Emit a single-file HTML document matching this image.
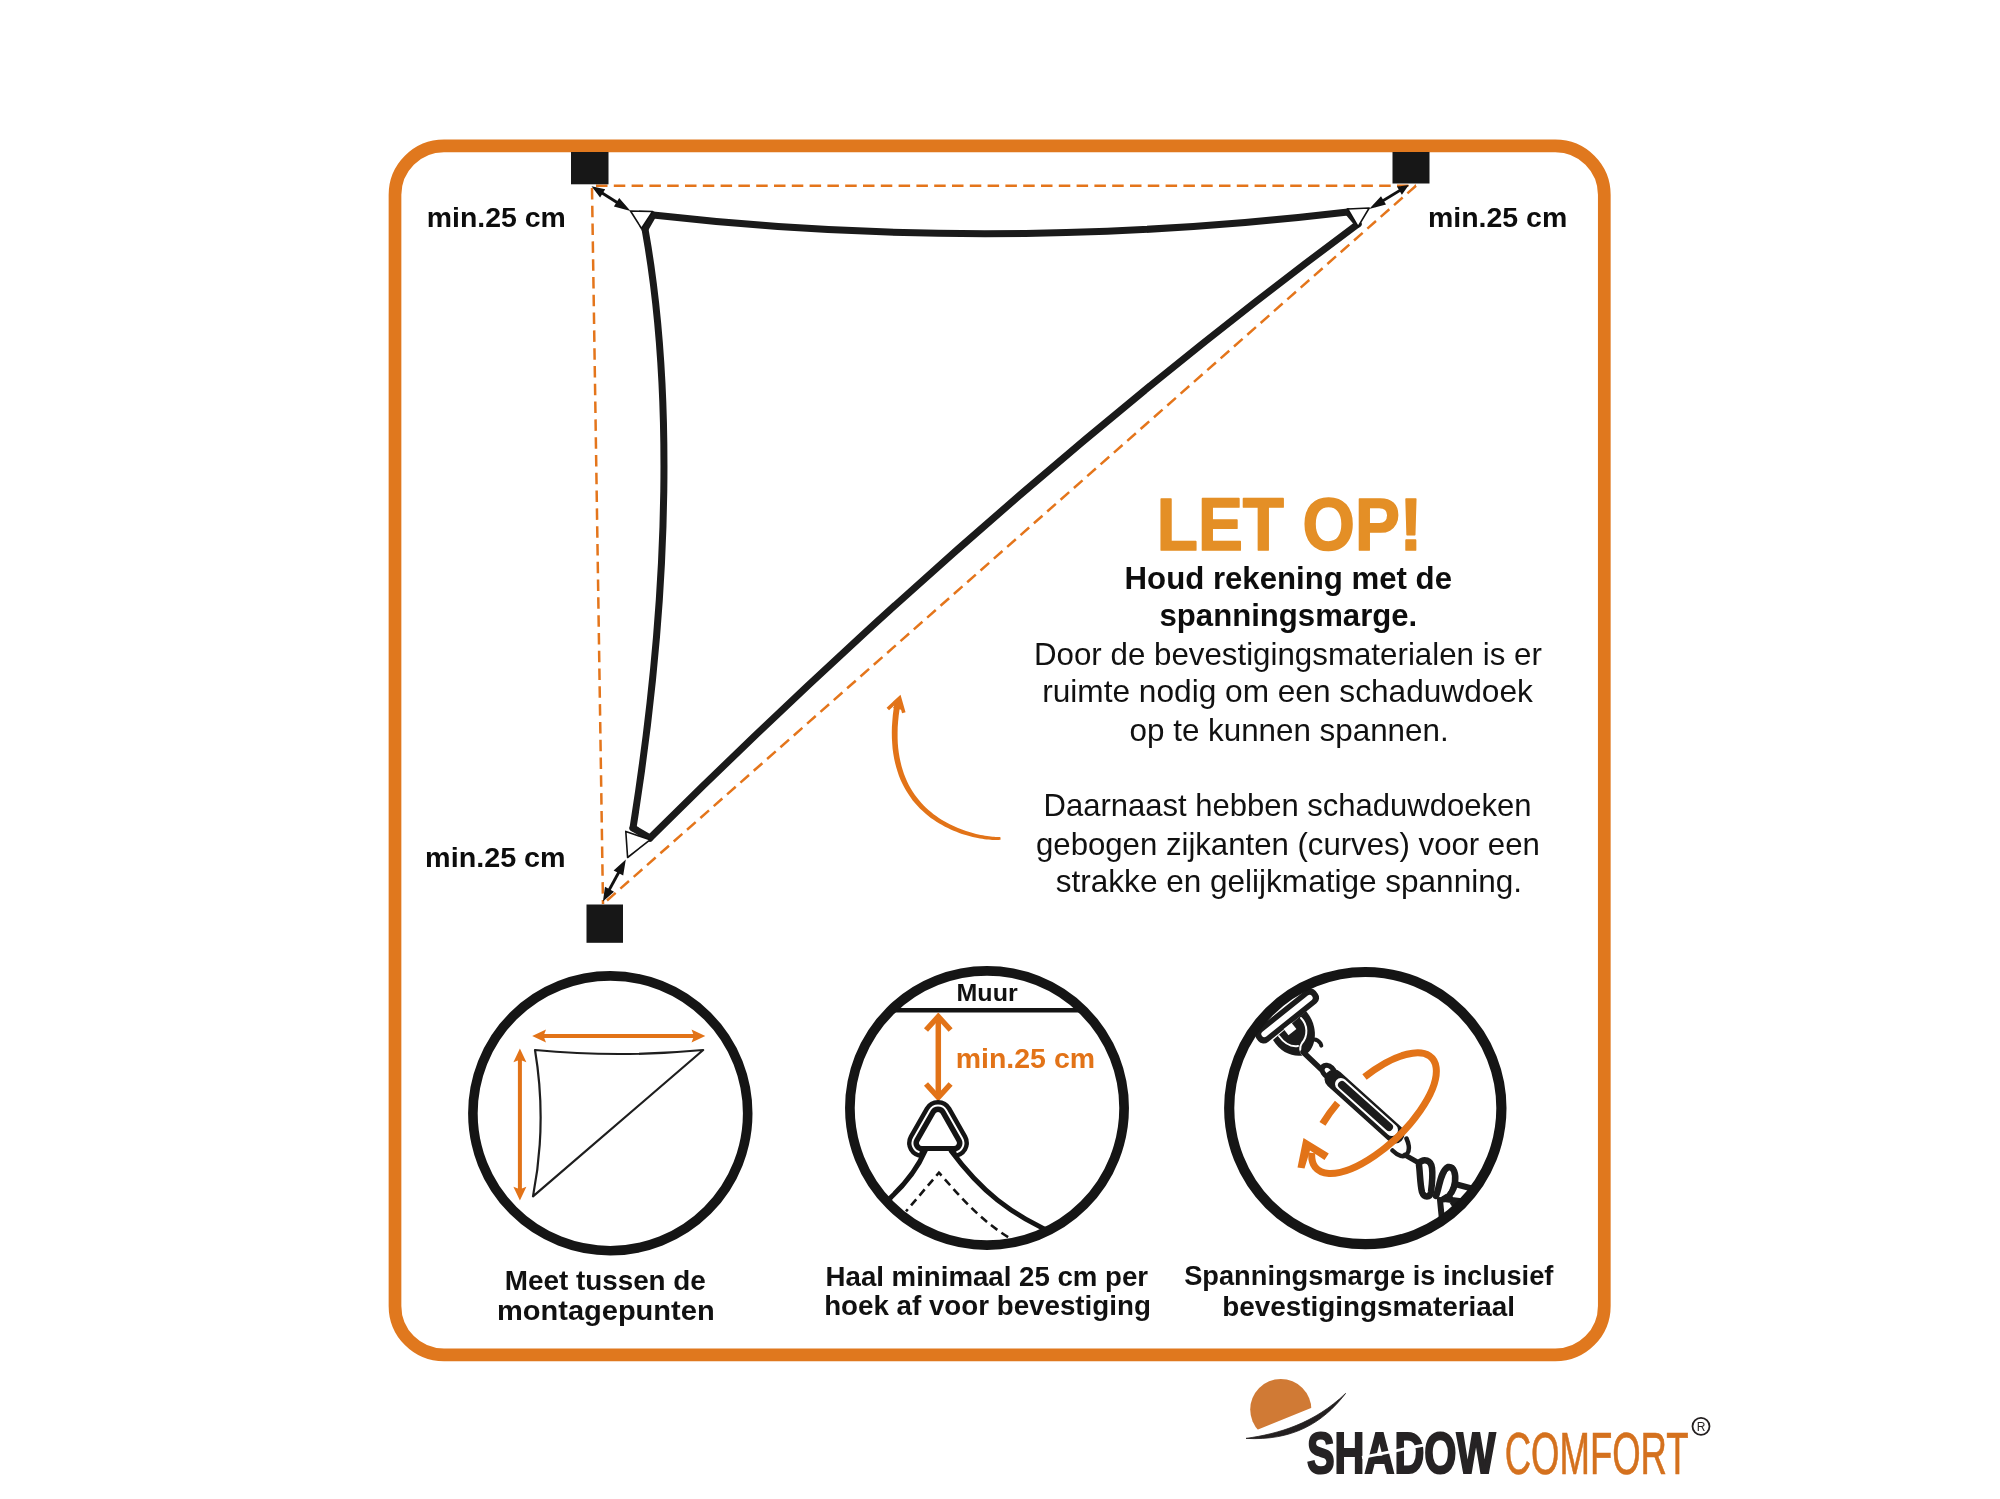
<!DOCTYPE html>
<html><head><meta charset="utf-8"><title>Spanningsmarge</title>
<style>
html,body{margin:0;padding:0;background:#fff;width:2000px;height:1499px;overflow:hidden}
svg{display:block;will-change:transform}
text{font-family:"Liberation Sans",sans-serif}
</style></head><body>
<svg width="2000" height="1499" viewBox="0 0 2000 1499">
<defs>
<marker id="ah" viewBox="0 0 10 10" refX="9" refY="5" markerWidth="5" markerHeight="4" orient="auto-start-reverse" markerUnits="strokeWidth">
<path d="M0,0 L10,5 L0,10 z" fill="#111"/>
</marker>
</defs>
<!-- orange frame -->
<rect id="frame" x="395" y="145.8" width="1209.3" height="1209.1" rx="49" ry="49" fill="none" stroke="#E0781E" stroke-width="12.7"/>

<!-- dashed guide lines -->
<g id="dash" stroke="#E4751B" stroke-width="2.5" stroke-dasharray="11.5 6.3" fill="none">
<line x1="596" y1="185.7" x2="1416" y2="185.7"/>
<line x1="592" y1="188" x2="603" y2="904"/>
<line x1="1416" y1="185.7" x2="603" y2="904"/>
</g>

<!-- anchor squares -->
<g id="squares" fill="#171717">
<rect x="571" y="152" width="37.5" height="32.3"/>
<rect x="1392.5" y="152" width="37" height="31.5"/>
<rect x="586.5" y="904.5" width="36.5" height="38.3"/>
</g>

<!-- sail -->
<g id="sail" fill="none" stroke="#1a1a1a" stroke-width="7" stroke-linejoin="round" stroke-linecap="round">
<path d="M653,215 Q995.2,253.8 1348,212"/>
<path d="M1358,224 Q1003.1,487.4 650,838"/>
<path d="M645,229 C671.6,376.9 672.5,580.4 633,828"/>
<path d="M653,215 L645,229"/>
<path d="M1348,212 L1358,224"/>
<path d="M633,828 L650,838"/>
</g>
<!-- grommets -->
<g id="grom" fill="#fff" stroke="#111" stroke-width="1.6" stroke-linejoin="round">
<path d="M630.5,211 L652.6,211.5 L641.5,228.5 Z"/>
<path d="M1347.7,209 L1369.2,208 L1358.1,226.6 Z"/>
<path d="M625.8,831.4 L650,839.8 L627.6,857.5 Z"/>
</g>
<!-- small double arrows -->
<g id="arrows">
<line x1="596.6" y1="189.5" x2="625.4" y2="207.8" stroke="#111" stroke-width="2.9"/>
<path d="M591.5,186.3 L600.1,197.5 L605.2,189.3 Z M630.5,211.0 L619.2,197.9 L613.9,206.4 Z" fill="#111"/>
<line x1="1403.7" y1="188.1" x2="1374.3" y2="205.9" stroke="#111" stroke-width="2.9"/>
<path d="M1408.8,185.0 L1396.9,186.6 L1401.9,194.8 Z M1369.2,209.0 L1386.0,204.4 L1381.0,196.2 Z" fill="#111"/>
<line x1="622.9" y1="864.7" x2="605.8" y2="896.1" stroke="#111" stroke-width="2.9"/>
<path d="M625.8,859.4 L613.6,870.4 L623.2,875.6 Z M602.9,901.4 L614.0,891.7 L605.0,886.8 Z" fill="#111"/>
</g>

<!-- min.25 cm labels -->
<g id="labels" font-weight="bold" font-size="27" fill="#0d0d0d">
</g>

<!-- LET OP block -->
<g id="letop" text-anchor="start">
<g font-weight="bold" font-size="29" fill="#0d0d0d">
</g>
<g font-size="29" fill="#111">
</g>
</g>

<!-- curved orange arrow -->
<g id="carrow" fill="#E27318">
<path d="M1000.3,837.0 L999.7,837.0 L998.9,837.0 L997.9,837.0 L996.7,837.0 L995.5,836.9 L994.0,836.8 L992.5,836.7 L990.8,836.5 L989.0,836.3 L987.1,836.0 L985.0,835.7 L982.9,835.3 L980.7,834.9 L978.4,834.4 L976.1,833.9 L973.6,833.2 L971.1,832.6 L968.6,831.8 L966.0,831.0 L963.3,830.1 L960.7,829.1 L958.0,828.0 L955.2,826.8 L952.5,825.6 L949.8,824.2 L947.0,822.8 L944.3,821.3 L941.6,819.7 L938.9,817.9 L936.2,816.1 L933.6,814.2 L931.0,812.1 L928.5,809.9 L926.0,807.7 L923.5,805.3 L921.2,802.7 L918.9,800.1 L916.7,797.3 L914.6,794.4 L912.6,791.4 L910.6,788.2 L908.8,784.9 L907.1,781.4 L905.5,777.8 L904.0,774.0 L902.7,770.1 L901.5,766.1 L900.5,761.8 L899.6,757.4 L898.8,752.8 L898.2,748.1 L897.8,743.2 L897.6,738.1 L897.6,732.8 L897.7,727.3 L898.1,721.7 L898.7,715.8 L899.5,709.8 L900.5,703.5 L894.5,702.5 L893.6,708.9 L892.8,715.2 L892.3,721.2 L891.9,727.1 L891.8,732.8 L891.9,738.3 L892.2,743.6 L892.6,748.7 L893.3,753.7 L894.1,758.4 L895.1,763.1 L896.3,767.5 L897.6,771.8 L899.0,775.9 L900.6,779.9 L902.4,783.7 L904.2,787.3 L906.2,790.8 L908.3,794.1 L910.5,797.3 L912.7,800.4 L915.1,803.3 L917.6,806.0 L920.1,808.7 L922.7,811.1 L925.4,813.5 L928.1,815.7 L930.8,817.9 L933.6,819.8 L936.4,821.7 L939.3,823.5 L942.1,825.1 L945.0,826.7 L947.9,828.1 L950.7,829.5 L953.6,830.7 L956.4,831.8 L959.2,832.9 L962.0,833.9 L964.8,834.7 L967.5,835.5 L970.1,836.3 L972.7,836.9 L975.2,837.5 L977.7,838.0 L980.0,838.4 L982.3,838.8 L984.5,839.2 L986.6,839.4 L988.6,839.6 L990.5,839.8 L992.2,839.9 L993.9,840.0 L995.4,840.0 L996.7,840.0 L997.9,839.9 L999.0,839.9 L999.9,839.7 L1000.7,839.6 Z"/>
<path d="M899.8,697 L902.5,710 L893,708 Z"/>
<path d="M887.8,709 L899.6,698 L903.8,712.8" fill="none" stroke="#E27318" stroke-width="3.6" stroke-linejoin="miter" stroke-miterlimit="6" stroke-linecap="butt"/>
</g>



<clipPath id="c1"><circle cx="610.3" cy="1113.3" r="134"/></clipPath>
<clipPath id="c2"><circle cx="987" cy="1108" r="134"/></clipPath>
<clipPath id="c3"><circle cx="1365.3" cy="1108.1" r="132"/></clipPath>

<!-- circle 1 icon -->
<g id="ic1">
<path d="M535,1050 Q619,1058 703.2,1050 L533,1196.4 Q547.2,1123 535,1050 Z" fill="none" stroke="#1e1e1e" stroke-width="2.2" stroke-linejoin="round"/>
<g fill="#E27318">
<rect x="540" y="1034" width="158" height="4"/>
<path d="M532.2,1036 L546,1029.5 L543.5,1036 L546,1042.5 Z"/>
<path d="M705.3,1036 L691.5,1029.5 L694,1036 L691.5,1042.5 Z"/>
<rect x="517.9" y="1056" width="4" height="136"/>
<path d="M519.9,1048.5 L513.4,1062.3 L519.9,1059.8 L526.4,1062.3 Z"/>
<path d="M519.9,1200.6 L513.4,1186.8 L519.9,1189.3 L526.4,1186.8 Z"/>
</g>
</g>

<!-- circle 2 icon -->
<g id="ic2">
<line x1="880" y1="1010.2" x2="1100" y2="1010.2" stroke="#141414" stroke-width="4.5" clip-path="url(#c2)"/>
<g stroke="#E27318" fill="none" stroke-linecap="butt" stroke-linejoin="miter">
<line x1="938.3" y1="1018" x2="938.3" y2="1096" stroke-width="5.5"/>
<path d="M926,1030 L938.3,1016.5 L950.6,1030" stroke-width="5.5"/>
<path d="M926,1084 L938.3,1097.5 L950.6,1084" stroke-width="5.5"/>
</g>

<path d="M951.1,1107.5 L967.0,1135.6 A15.0,15.0 0 0 1 953.9,1158.0 L922.0,1158.0 A15.0,15.0 0 0 1 909.0,1135.6 L925.0,1107.5 A15.0,15.0 0 0 1 951.1,1107.5 Z" fill="#141414"/>
<path d="M919.5,1152.3 A9.5,9.5 0 0 1 913.8,1138.3 L929.8,1110.2 A9.5,9.5 0 0 1 946.2,1110.2 L962.1,1138.3 A9.5,9.5 0 0 1 956.5,1152.3" fill="none" stroke="#fff" stroke-width="2"/>
<path d="M940.6,1113.4 L956.5,1141.5 A3.0,3.0 0 0 1 953.9,1146.0 L922.0,1146.0 A3.0,3.0 0 0 1 919.4,1141.5 L935.4,1113.4 A3.0,3.0 0 0 1 940.6,1113.4 Z" fill="#fff"/>
<g clip-path="url(#c2)">
<path d="M925,1151 L951,1151 C980,1190 1010,1215 1060,1236 L1060,1260 L870,1260 L870,1209 C903,1188 917,1170 925,1151 Z" fill="#fff"/>
<g fill="none" stroke="#141414">
<path d="M925.5,1150 C917,1170 903,1188 880,1207" stroke-width="5"/>
<path d="M950.5,1150 C980,1190 1010,1215 1060,1236" stroke-width="5"/>
<path d="M906,1211.4 L938.9,1172.7 C955,1190 980,1223 1020,1244" stroke-width="2.6" stroke-dasharray="8 5" stroke-dashoffset="5.2"/>
</g>
</g>

</g>

<!-- circle 3 icon -->
<g id="ic3" clip-path="url(#c3)">
<!-- plate -->
<g transform="translate(1287,1016) rotate(-38.7)">
<rect x="-38" y="-8.5" width="76" height="17" rx="7" fill="#1b1b1b"/>
<rect x="-32" y="-3" width="64" height="6" rx="3" fill="#fff"/>
</g>
<!-- shackle -->
<path d="M1273,1040 C1281,1053 1294,1058 1305,1055 C1317,1048 1319,1026 1306,1011 Z" fill="#1b1b1b"/>
<g fill="none" stroke="#fff" stroke-width="2" stroke-linecap="round">
<path d="M1279,1036 C1284,1043 1291,1047 1298,1046"/>
<path d="M1301,1018 C1308,1025 1308,1036 1302,1043 C1299,1047 1300,1052 1303,1055"/>
</g>
<rect x="-5" y="-4" width="10" height="8" fill="#fff" transform="translate(1290,1029) rotate(-38)"/>
<g fill="none" stroke="#1b1b1b" stroke-linecap="round" stroke-linejoin="round">
<path d="M1307.6,1045 C1310,1039 1316,1037 1320.5,1043.3 L1321.3,1045.7" stroke-width="4"/>
<path d="M1303,1052 L1324,1072" stroke-width="5.5"/>
</g>
<ellipse cx="1328.5" cy="1071.5" rx="10" ry="7.5" transform="rotate(44 1328.5 1071.5)" fill="#1b1b1b"/>
<ellipse cx="1328.5" cy="1071.5" rx="4.5" ry="2.6" transform="rotate(44 1328.5 1071.5)" fill="#fff"/>
<!-- turnbuckle body -->
<line x1="1334" y1="1079" x2="1395" y2="1134" stroke="#1b1b1b" stroke-width="19" stroke-linecap="round"/>
<line x1="1341" y1="1084" x2="1392" y2="1130" stroke="#fff" stroke-width="12" stroke-linecap="round"/>
<line x1="1342" y1="1085" x2="1389" y2="1127" stroke="#1b1b1b" stroke-width="8" stroke-linecap="round"/>
<!-- orange ellipse -->
<g fill="none" stroke="#E27318" stroke-width="7">
<path d="M1364.5,1077.1 A80,33.5 -43.67 1 1 1311.8,1152.9"/>
<path d="M1322.5,1123.9 A80,33.5 -43.67 0 1 1337.6,1103"/>
</g>
<path d="M1303.5,1138 L1328.8,1153.5 L1324.5,1160 L1310,1150.5 L1304.5,1168.5 L1297.5,1167.5 Z" fill="#E27318"/>
<!-- lower chain -->
<g fill="none" stroke="#1b1b1b" stroke-linecap="round" stroke-linejoin="round">
<path d="M1392.5,1150.5 C1398,1156 1404,1158 1407,1154 C1410,1150 1408.5,1143 1406.5,1138.5" stroke-width="4.5"/>
<path d="M1405,1155 L1419,1163" stroke-width="5"/>
<path d="M1419,1163 C1424,1158 1431,1160 1432,1168 C1433,1176 1432,1184 1431,1192 C1430,1198 1424,1198 1422,1192 C1420,1184 1420,1172 1419,1165" stroke-width="6.5"/>
<path d="M1424,1168 C1427,1176 1427,1186 1426,1191" stroke="#fff" stroke-width="2"/>
<path d="M1436,1196 C1440,1186 1440,1172 1448,1167 C1454,1166 1456,1174 1455,1182 C1454,1190 1450,1196 1444,1199" stroke-width="6.5"/>
<path d="M1448,1173 C1450,1180 1450,1188 1446,1193" stroke="#fff" stroke-width="2"/>
<path d="M1440,1200 L1444,1240 M1444,1199 L1490,1205 M1455,1184 L1500,1196 M1450,1198 L1478,1240" stroke-width="6"/>
</g>

</g>

<!-- circles -->
<g id="circles" fill="none" stroke="#151515">
<circle cx="610.3" cy="1113.3" r="137.4" stroke-width="9.6"/>
<circle cx="987" cy="1108" r="137.1" stroke-width="9.7"/>
<circle cx="1365.3" cy="1108.1" r="136.1" stroke-width="10.2"/>
</g>

<!-- captions -->
<g id="captions" font-weight="bold" font-size="27" fill="#111">
</g>

<!-- logo -->
<g id="logo">
<clipPath id="sunclip"><path d="M1200,1300 L1400,1300 L1400,1383 L1312.9,1407.2 L1256.8,1430 L1200,1453 Z"/></clipPath>
<circle cx="1280.8" cy="1409.6" r="30.6" fill="#D07A35" clip-path="url(#sunclip)"/>
<path d="M1246,1438.4 C1278.8,1433.7 1313.8,1423.7 1345.6,1393.4 C1321.9,1424.2 1291.4,1440.8 1246,1438.4 Z" fill="#231F20" stroke="#231F20" stroke-width="0.8" stroke-linejoin="round"/>
<circle cx="1701" cy="1426.3" r="8.5" fill="none" stroke="#231F20" stroke-width="1.8"/>
<text x="1701" y="1431" font-size="12" text-anchor="middle" fill="#231F20">R</text>
</g>
<!--TEXTS-->
<text x="426.72" y="227.4" font-size="27" font-weight="bold" fill="#0d0d0d" textLength="138.98" lengthAdjust="spacingAndGlyphs">min.25 cm</text>
<text x="1427.94" y="227.4" font-size="27" font-weight="bold" fill="#0d0d0d" textLength="139.34" lengthAdjust="spacingAndGlyphs">min.25 cm</text>
<text x="425.13" y="867.4" font-size="27" font-weight="bold" fill="#0d0d0d" textLength="140.52" lengthAdjust="spacingAndGlyphs">min.25 cm</text>
<text x="1156.84" y="549.75" font-size="74" font-weight="bold" fill="#E48F26" textLength="265.41" lengthAdjust="spacingAndGlyphs" stroke="#E48F26" stroke-width="1.7" stroke-linejoin="round">LET OP!</text>
<text x="1124.57" y="588.9" font-size="31.5" font-weight="bold" fill="#0d0d0d" textLength="327.44" lengthAdjust="spacingAndGlyphs">Houd rekening met de</text>
<text x="1159.56" y="626.4" font-size="31.5" font-weight="bold" fill="#0d0d0d" textLength="257.69" lengthAdjust="spacingAndGlyphs">spanningsmarge.</text>
<text x="1033.98" y="665.3" font-size="30.5" font-weight="normal" fill="#111" textLength="507.83" lengthAdjust="spacingAndGlyphs">Door de bevestigingsmaterialen is er</text>
<text x="1042.18" y="702.4" font-size="30.5" font-weight="normal" fill="#111" textLength="490.63" lengthAdjust="spacingAndGlyphs">ruimte nodig om een schaduwdoek</text>
<text x="1129.58" y="741.3" font-size="30.5" font-weight="normal" fill="#111" textLength="319.06" lengthAdjust="spacingAndGlyphs">op te kunnen spannen.</text>
<text x="1043.57" y="816.4" font-size="30.5" font-weight="normal" fill="#111" textLength="487.85" lengthAdjust="spacingAndGlyphs">Daarnaast hebben schaduwdoeken</text>
<text x="1035.99" y="855.3" font-size="30.5" font-weight="normal" fill="#111" textLength="503.83" lengthAdjust="spacingAndGlyphs">gebogen zijkanten (curves) voor een</text>
<text x="1055.79" y="892.4" font-size="30.5" font-weight="normal" fill="#111" textLength="466.25" lengthAdjust="spacingAndGlyphs">strakke en gelijkmatige spanning.</text>
<text x="504.76" y="1290" font-size="27" font-weight="bold" fill="#111" textLength="201.09" lengthAdjust="spacingAndGlyphs">Meet tussen de</text>
<text x="496.96" y="1320" font-size="27" font-weight="bold" fill="#111" textLength="217.68" lengthAdjust="spacingAndGlyphs">montagepunten</text>
<text x="825.59" y="1286" font-size="27" font-weight="bold" fill="#111" textLength="322.42" lengthAdjust="spacingAndGlyphs">Haal minimaal 25 cm per</text>
<text x="824.17" y="1315.4" font-size="27" font-weight="bold" fill="#111" textLength="326.67" lengthAdjust="spacingAndGlyphs">hoek af voor bevestiging</text>
<text x="1184.18" y="1285.4" font-size="27" font-weight="bold" fill="#111" textLength="369.23" lengthAdjust="spacingAndGlyphs">Spanningsmarge is inclusief</text>
<text x="1222.16" y="1315.8" font-size="27" font-weight="bold" fill="#111" textLength="292.87" lengthAdjust="spacingAndGlyphs">bevestigingsmateriaal</text>
<text x="956.52" y="1001" font-size="24.5" font-weight="bold" fill="#111" textLength="61.16" lengthAdjust="spacingAndGlyphs">Muur</text>
<text x="955.72" y="1068.2" font-size="27" font-weight="bold" fill="#E27318" textLength="139.34" lengthAdjust="spacingAndGlyphs">min.25 cm</text>
<text x="1306.99" y="1472.5" font-size="58" font-weight="bold" fill="#262324" textLength="188.63" lengthAdjust="spacingAndGlyphs" stroke="#262324" stroke-width="2.2" stroke-linejoin="miter">SHADOW</text>
<text x="1504.76" y="1474.2" font-size="60" font-weight="normal" fill="#D4711E" textLength="183.87" lengthAdjust="spacingAndGlyphs" stroke="#D4711E" stroke-width="0.7">COMFORT</text>
<!--/TEXTS-->
<!--POST-->
<line x1="1362" y1="1457.5" x2="1424" y2="1445" stroke="#fff" stroke-width="3"/>
<!--/POST-->
</svg>
</body></html>
